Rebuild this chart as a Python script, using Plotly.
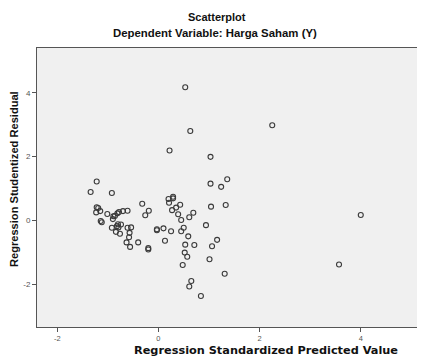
import plotly.graph_objects as go

predicted = [0.22, 1.03, -1.22, -1.34, -0.92, 1.03, 1.36, 1.24, 1.04, 1.33,
             -0.32, -0.19, -0.26, 0.20, 0.29, 0.29, 0.21, 0.43, 0.35, 0.27,
             0.39, 0.69, 0.61, 0.45, 0.94, 0.50, 0.45, 0.25, 0.10, -0.03,
             -0.03, 0.13, 0.59, 1.16, 1.06, 0.53, 0.71, 0.52, 0.57, 1.01,
             0.48, 1.31, 0.65, 0.61, 0.84, -0.20, -0.20, -0.40, -0.56, -0.63,
             -0.58, -0.61, -0.54, -0.57, -0.76, -0.84, -0.92, -0.82, -0.74, -0.79,
             -1.14, -1.12, -1.22, -1.19, -1.23, -1.15, -1.01, -0.90, -0.86, -0.81,
             -0.78, -0.70, -0.61, -0.80, -0.89, 0.53, 0.63, 2.25, 3.57, 4.00]
residual = [2.19, 1.99, 1.22, 0.89, 0.86, 1.15, 1.29, 1.05, 0.43, 0.48,
            0.52, 0.30, 0.16, 0.67, 0.74, 0.69, 0.55, 0.49, 0.40, 0.32,
            0.19, 0.24, 0.10, 0.01, -0.15, -0.23, -0.34, -0.34, -0.25, -0.28,
            -0.31, -0.64, -0.50, -0.61, -0.81, -0.76, -0.77, -1.01, -1.14, -1.22,
            -1.40, -1.67, -1.90, -2.07, -2.37, -0.87, -0.91, -0.69, -0.83, -0.69,
            -0.53, -0.23, -0.22, -0.39, -0.42, -0.36, -0.23, -0.18, -0.13, -0.22,
            -0.02, -0.06, 0.41, 0.39, 0.25, 0.29, 0.20, 0.04, 0.14, 0.22,
            0.26, 0.29, 0.30, -0.12, 0.13, 4.17, 2.80, 2.98, -1.38, 0.17]

tick_vals = [-2, 0, 2, 4]
tick_text = ["-2", "0", "2", "4"]

# The page body has an 8px default margin, so the figure is 8px smaller
# and every pixel position below is given in page coordinates minus 8.
OFF = 8
W, H = 425 - OFF, 360 - OFF
L, R, T, B = 37 - OFF, 2, 48 - OFF, 33
pw, ph = W - L - R, H - T - B


def px(x):
    return (x - OFF - L) / pw


def py(y):
    return (H - B - (y - OFF)) / ph


fig = go.Figure()
fig.add_trace(go.Scatter(
    x=predicted, y=residual, mode="markers",
    marker=dict(symbol="circle-open", size=5, color="#3a3a3a",
                line=dict(width=1.1, color="#3a3a3a")),
    showlegend=False, hoverinfo="skip"))

font_family = "Liberation Sans, Arial, sans-serif"
fig.update_layout(
    width=W, height=H,
    margin=dict(l=L, r=R, t=T, b=B, autoexpand=False),
    paper_bgcolor="white", plot_bgcolor="#f0f0f0",
    font=dict(family=font_family, size=9, color="#222"),
    annotations=[
        dict(text="<b>Scatterplot</b>", x=px(217), y=py(17), xref="paper", yref="paper",
             showarrow=False, xanchor="center", yanchor="middle",
             font=dict(size=11, color="#111")),
        dict(text="<b>Dependent Variable: Harga Saham (Y)</b>", x=px(215), y=py(33),
             xref="paper", yref="paper", showarrow=False, xanchor="center",
             yanchor="middle", font=dict(size=11.4, color="#111")),
        dict(text="<b>Regression Standardized Predicted Value</b>", x=px(266), y=py(350),
             xref="paper", yref="paper", showarrow=False, xanchor="center",
             yanchor="middle",
             font=dict(size=11.3, color="#111", family="DejaVu Sans, Verdana, sans-serif")),
        dict(text="<b>Regression Studentized Residual</b>", x=px(14), y=py(179),
             xref="paper", yref="paper", showarrow=False, xanchor="center",
             yanchor="middle", textangle=-90, font=dict(size=11.1, color="#111")),
    ],
)

fig.update_xaxes(
    range=[-2.40, 5.23], tickvals=tick_vals, ticktext=tick_text, automargin=False,
    showgrid=False, zeroline=False, showline=True, linecolor="#555", linewidth=1,
    mirror=True, ticks="outside", ticklen=4, tickcolor="#555",
    tickfont=dict(size=7.5, color="#555"))
fig.update_yaxes(
    range=[-3.34, 5.40], tickvals=tick_vals, ticktext=tick_text, automargin=False,
    showgrid=False, zeroline=False, showline=True, linecolor="#555", linewidth=1,
    mirror=True, ticks="outside", ticklen=4, tickcolor="#555",
    tickfont=dict(size=8, color="#555"))

fig.write_html("out.html")
